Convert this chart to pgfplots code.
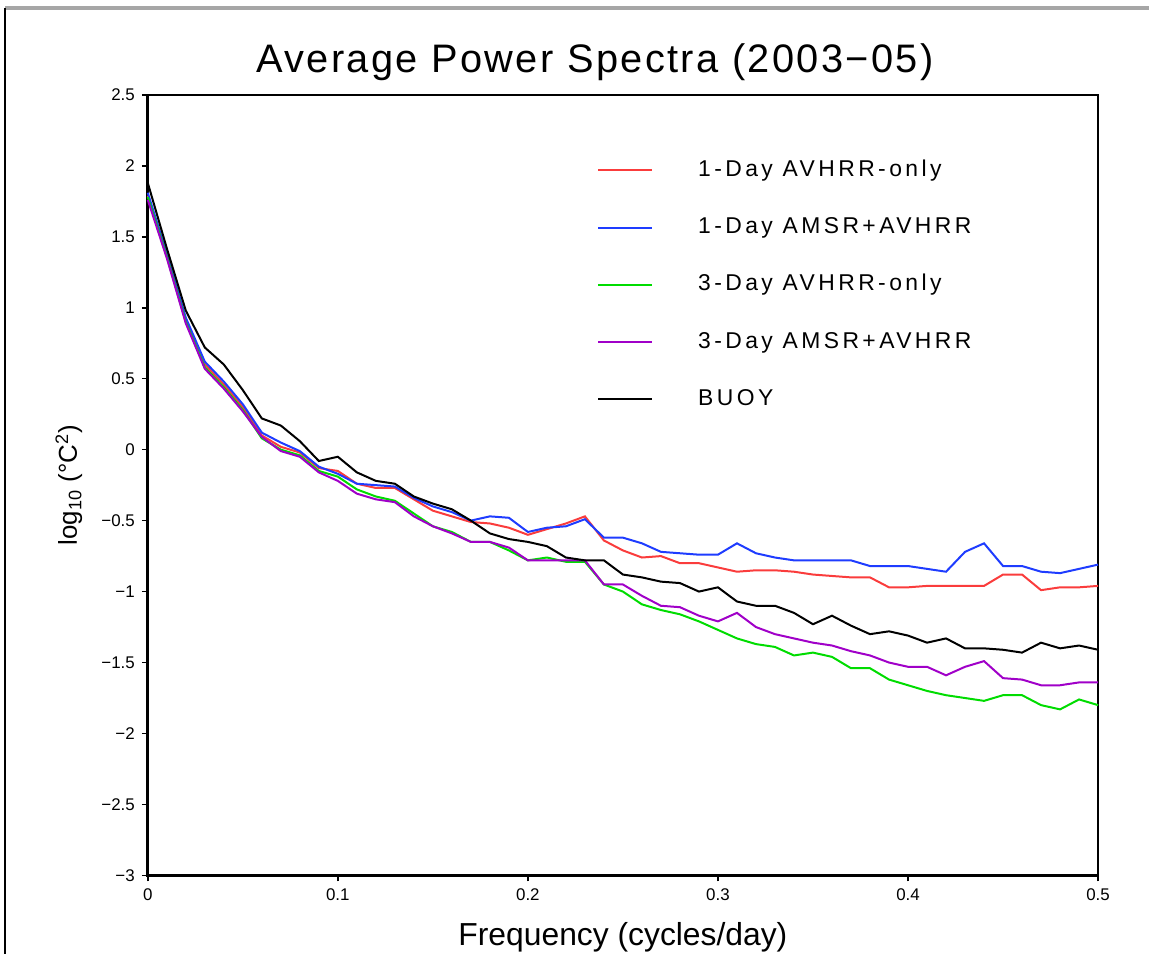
\documentclass[border=0pt]{standalone}
\usepackage{fontspec}
\setmainfont{Liberation Sans}
\newfontfamily\legfont[LetterSpace=15]{Liberation Sans}
\newfontfamily\titlefont[LetterSpace=6]{Liberation Sans}
\usepackage{pgfplots}
\usepackage{pgfplotstable}
\pgfplotsset{compat=1.18}

\definecolor{gradsred}{RGB}{250,60,60}
\definecolor{gradsblue}{RGB}{30,60,255}
\definecolor{gradsgreen}{RGB}{0,220,0}
\definecolor{gradspurple}{RGB}{160,0,200}

% f, 1-day AVHRR, 1-day AMSR+AVHRR, 3-day AVHRR, 3-day AMSR+AVHRR, buoy
\pgfplotstableread{
f    r1    b1    g3    p3    buoy
0.00 1.79  1.81  1.78  1.76  1.88
0.01 1.38  1.38  1.36  1.35  1.42
0.02 0.92  0.93  0.90  0.89  0.98
0.03 0.60  0.62  0.58  0.57  0.72
0.04 0.46  0.48  0.44  0.43  0.60
0.05 0.30  0.32  0.28  0.27  0.42
0.06 0.10  0.12  0.08  0.09  0.22
0.07 0.02  0.05  0.00  -0.01 0.17
0.08 -0.02 -0.01 -0.04 -0.05 0.06
0.09 -0.13 -0.12 -0.15 -0.16 -0.08
0.10 -0.15 -0.17 -0.19 -0.22 -0.05
0.11 -0.24 -0.24 -0.28 -0.31 -0.16
0.12 -0.27 -0.25 -0.33 -0.35 -0.22
0.13 -0.27 -0.26 -0.36 -0.37 -0.24
0.14 -0.35 -0.34 -0.45 -0.47 -0.33
0.15 -0.43 -0.40 -0.54 -0.54 -0.38
0.16 -0.47 -0.44 -0.58 -0.59 -0.42
0.17 -0.51 -0.50 -0.65 -0.65 -0.50
0.18 -0.52 -0.47 -0.65 -0.65 -0.59
0.19 -0.55 -0.48 -0.71 -0.69 -0.63
0.20 -0.60 -0.58 -0.78 -0.78 -0.65
0.21 -0.56 -0.55 -0.76 -0.78 -0.68
0.22 -0.52 -0.54 -0.79 -0.78 -0.76
0.23 -0.47 -0.49 -0.79 -0.78 -0.78
0.24 -0.64 -0.62 -0.95 -0.95 -0.78
0.25 -0.71 -0.62 -1.00 -0.95 -0.88
0.26 -0.76 -0.66 -1.09 -1.03 -0.90
0.27 -0.75 -0.72 -1.13 -1.10 -0.93
0.28 -0.80 -0.73 -1.16 -1.11 -0.94
0.29 -0.80 -0.74 -1.21 -1.17 -1.00
0.30 -0.83 -0.74 -1.27 -1.21 -0.97
0.31 -0.86 -0.66 -1.33 -1.15 -1.07
0.32 -0.85 -0.73 -1.37 -1.25 -1.10
0.33 -0.85 -0.76 -1.39 -1.30 -1.10
0.34 -0.86 -0.78 -1.45 -1.33 -1.15
0.35 -0.88 -0.78 -1.43 -1.36 -1.23
0.36 -0.89 -0.78 -1.46 -1.38 -1.17
0.37 -0.90 -0.78 -1.54 -1.42 -1.24
0.38 -0.90 -0.82 -1.54 -1.45 -1.30
0.39 -0.97 -0.82 -1.62 -1.50 -1.28
0.40 -0.97 -0.82 -1.66 -1.53 -1.31
0.41 -0.96 -0.84 -1.70 -1.53 -1.36
0.42 -0.96 -0.86 -1.73 -1.59 -1.33
0.43 -0.96 -0.72 -1.75 -1.53 -1.40
0.44 -0.96 -0.66 -1.77 -1.49 -1.40
0.45 -0.88 -0.82 -1.73 -1.61 -1.41
0.46 -0.88 -0.82 -1.73 -1.62 -1.43
0.47 -0.99 -0.86 -1.80 -1.66 -1.36
0.48 -0.97 -0.87 -1.83 -1.66 -1.40
0.49 -0.97 -0.84 -1.76 -1.64 -1.38
0.50 -0.96 -0.81 -1.80 -1.64 -1.41
}\spectra

\begin{document}
\begin{tikzpicture}
\begin{axis}[
    scale only axis,
    width=476bp, height=391bp,
    xmin=0, xmax=0.5,
    ymin=-3, ymax=2.5,
    xtick={0,0.1,0.2,0.3,0.4,0.5},
    ytick={-3,-2.5,-2,-1.5,-1,-0.5,0,0.5,1,1.5,2,2.5},
    xticklabels={0,0.1,0.2,0.3,0.4,0.5},
    yticklabels={−3,−2.5,−2,−1.5,−1,−0.5,0,0.5,1,1.5,2,2.5},
    xtick pos=bottom, ytick pos=left,
    tick align=outside,
    major tick length=3bp,
    axis line style={line width=1.3bp},
    tick style={line width=0.8bp, black},
    ticklabel style={font=\fontsize{8.5}{10}\selectfont},
    /pgf/number format/assume math mode=true,
    title={Average Power Spectra (2003−05)},
    title style={at={(rel axis cs:0.4706,1)}, anchor=base, yshift=5bp,
                 font=\titlefont\fontsize{20}{24}\selectfont},
    xlabel={Frequency (cycles/day)},
    xlabel style={at={(rel axis cs:0.5,0)}, anchor=base, yshift=-35bp,
                  font=\fontsize{16}{19}\selectfont},
    ylabel={log\textsubscript{10} (°C\textsuperscript{2})},
    ylabel style={at={(rel axis cs:-0.083,0.5)}, anchor=center, rotate=0,
                  font=\fontsize{13}{15}\selectfont},
    every axis plot/.append style={line width=1bp},
    legend style={draw=none, fill=none, at={(rel axis cs:0.4727,0.918)},
                  anchor=north west, row sep=17.7bp, inner sep=0pt,
                  font=\legfont\fontsize{11.5}{13}\selectfont,
                  nodes={inner sep=0pt, text height=8.5bp, text depth=2.5bp}},
    legend cell align=left,
    legend image code/.code={\draw[#1] (0bp,0bp) -- (27bp,0bp); \path (49.5bp,0bp);},
    clip=false,
]
\addplot[gradsred] table[x=f, y=r1] {\spectra};
\addlegendentry{1-Day AVHRR-only}
\addplot[gradsblue] table[x=f, y=b1] {\spectra};
\addlegendentry{1-Day AMSR+AVHRR}
\addplot[gradsgreen] table[x=f, y=g3] {\spectra};
\addlegendentry{3-Day AVHRR-only}
\addplot[gradspurple] table[x=f, y=p3] {\spectra};
\addlegendentry{3-Day AMSR+AVHRR}
\addplot[black] table[x=f, y=buoy] {\spectra};
\addlegendentry{BUOY}
% frame of the original figure and page extent
\draw[gray!70, line width=2bp] (rel axis cs:-0.1502,1.111) -- (rel axis cs:1.0536,1.111);
\draw[black, line width=0.6bp] (rel axis cs:-0.1502,1.111) -- (rel axis cs:-0.1502,-0.101);
\path (rel axis cs:-0.1555,-0.101) rectangle (rel axis cs:1.0536,1.1215);
\end{axis}
\end{tikzpicture}
\end{document}
